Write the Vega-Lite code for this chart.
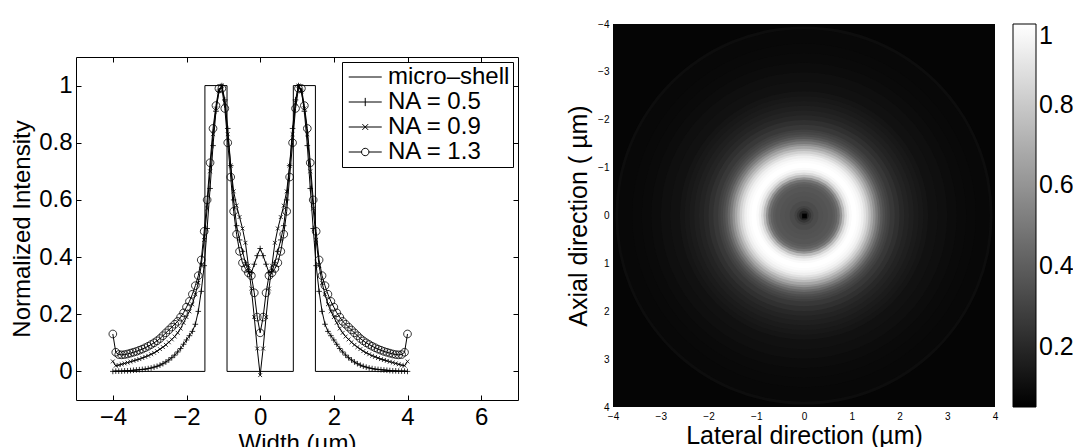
{
"$schema": "https://vega.github.io/schema/vega-lite/v6.json",
"background": "white",
"padding": {"left": 10, "top": 19, "right": 0, "bottom": 0},
"config": {
  "font": "Liberation Sans",
  "axis": {"labelColor": "black", "titleColor": "black", "titleFontWeight": "normal", "tickColor": "black", "domain": false, "grid": false},
  "legend": {"labelColor": "black"}
},
"datasets": {
"shell": [{"i":1,"x":-4,"y":0},{"i":2,"x":-1.5,"y":0},{"i":3,"x":-1.5,"y":1},{"i":4,"x":-0.9,"y":1},{"i":5,"x":-0.9,"y":0},{"i":6,"x":0.9,"y":0},{"i":7,"x":0.9,"y":1},{"i":8,"x":1.5,"y":1},{"i":9,"x":1.5,"y":0},{"i":10,"x":4,"y":0}],
"na": [
{"s":"NA = 0.5","x":-4,"y":0},{"s":"NA = 0.5","x":-3.92,"y":0.001},{"s":"NA = 0.5","x":-3.84,"y":0.001},{"s":"NA = 0.5","x":-3.76,"y":0.001},{"s":"NA = 0.5","x":-3.68,"y":0.002},{"s":"NA = 0.5","x":-3.6,"y":0.002},{"s":"NA = 0.5","x":-3.52,"y":0.003},{"s":"NA = 0.5","x":-3.44,"y":0.004},{"s":"NA = 0.5","x":-3.36,"y":0.005},{"s":"NA = 0.5","x":-3.28,"y":0.006},{"s":"NA = 0.5","x":-3.2,"y":0.007},{"s":"NA = 0.5","x":-3.12,"y":0.008},{"s":"NA = 0.5","x":-3.04,"y":0.01},{"s":"NA = 0.5","x":-2.96,"y":0.012},{"s":"NA = 0.5","x":-2.88,"y":0.015},{"s":"NA = 0.5","x":-2.8,"y":0.018},{"s":"NA = 0.5","x":-2.72,"y":0.022},{"s":"NA = 0.5","x":-2.64,"y":0.027},{"s":"NA = 0.5","x":-2.56,"y":0.033},{"s":"NA = 0.5","x":-2.48,"y":0.04},{"s":"NA = 0.5","x":-2.4,"y":0.048},{"s":"NA = 0.5","x":-2.32,"y":0.057},{"s":"NA = 0.5","x":-2.24,"y":0.068},{"s":"NA = 0.5","x":-2.16,"y":0.08},{"s":"NA = 0.5","x":-2.08,"y":0.095},{"s":"NA = 0.5","x":-2,"y":0.11},{"s":"NA = 0.5","x":-1.92,"y":0.125},{"s":"NA = 0.5","x":-1.84,"y":0.14},{"s":"NA = 0.5","x":-1.76,"y":0.165},{"s":"NA = 0.5","x":-1.68,"y":0.21},{"s":"NA = 0.5","x":-1.6,"y":0.28},{"s":"NA = 0.5","x":-1.52,"y":0.37},{"s":"NA = 0.5","x":-1.44,"y":0.5},{"s":"NA = 0.5","x":-1.36,"y":0.64},{"s":"NA = 0.5","x":-1.28,"y":0.79},{"s":"NA = 0.5","x":-1.2,"y":0.91},{"s":"NA = 0.5","x":-1.12,"y":0.98},{"s":"NA = 0.5","x":-1.04,"y":1},{"s":"NA = 0.5","x":-0.96,"y":0.95},{"s":"NA = 0.5","x":-0.88,"y":0.85},{"s":"NA = 0.5","x":-0.8,"y":0.72},{"s":"NA = 0.5","x":-0.72,"y":0.6},{"s":"NA = 0.5","x":-0.64,"y":0.51},{"s":"NA = 0.5","x":-0.56,"y":0.46},{"s":"NA = 0.5","x":-0.48,"y":0.42},{"s":"NA = 0.5","x":-0.4,"y":0.38},{"s":"NA = 0.5","x":-0.32,"y":0.35},{"s":"NA = 0.5","x":-0.24,"y":0.345},{"s":"NA = 0.5","x":-0.16,"y":0.375},{"s":"NA = 0.5","x":-0.08,"y":0.405},{"s":"NA = 0.5","x":0,"y":0.43},{"s":"NA = 0.5","x":0.08,"y":0.405},{"s":"NA = 0.5","x":0.16,"y":0.375},{"s":"NA = 0.5","x":0.24,"y":0.345},{"s":"NA = 0.5","x":0.32,"y":0.35},{"s":"NA = 0.5","x":0.4,"y":0.38},{"s":"NA = 0.5","x":0.48,"y":0.42},{"s":"NA = 0.5","x":0.56,"y":0.46},{"s":"NA = 0.5","x":0.64,"y":0.51},{"s":"NA = 0.5","x":0.72,"y":0.6},{"s":"NA = 0.5","x":0.8,"y":0.72},{"s":"NA = 0.5","x":0.88,"y":0.85},{"s":"NA = 0.5","x":0.96,"y":0.95},{"s":"NA = 0.5","x":1.04,"y":1},{"s":"NA = 0.5","x":1.12,"y":0.98},{"s":"NA = 0.5","x":1.2,"y":0.91},{"s":"NA = 0.5","x":1.28,"y":0.79},{"s":"NA = 0.5","x":1.36,"y":0.64},{"s":"NA = 0.5","x":1.44,"y":0.5},{"s":"NA = 0.5","x":1.52,"y":0.37},{"s":"NA = 0.5","x":1.6,"y":0.28},{"s":"NA = 0.5","x":1.68,"y":0.21},{"s":"NA = 0.5","x":1.76,"y":0.165},{"s":"NA = 0.5","x":1.84,"y":0.14},{"s":"NA = 0.5","x":1.92,"y":0.125},{"s":"NA = 0.5","x":2,"y":0.11},{"s":"NA = 0.5","x":2.08,"y":0.095},{"s":"NA = 0.5","x":2.16,"y":0.08},{"s":"NA = 0.5","x":2.24,"y":0.068},{"s":"NA = 0.5","x":2.32,"y":0.057},{"s":"NA = 0.5","x":2.4,"y":0.048},{"s":"NA = 0.5","x":2.48,"y":0.04},{"s":"NA = 0.5","x":2.56,"y":0.033},{"s":"NA = 0.5","x":2.64,"y":0.027},{"s":"NA = 0.5","x":2.72,"y":0.022},{"s":"NA = 0.5","x":2.8,"y":0.018},{"s":"NA = 0.5","x":2.88,"y":0.015},{"s":"NA = 0.5","x":2.96,"y":0.012},{"s":"NA = 0.5","x":3.04,"y":0.01},{"s":"NA = 0.5","x":3.12,"y":0.008},{"s":"NA = 0.5","x":3.2,"y":0.007},{"s":"NA = 0.5","x":3.28,"y":0.006},{"s":"NA = 0.5","x":3.36,"y":0.005},{"s":"NA = 0.5","x":3.44,"y":0.004},{"s":"NA = 0.5","x":3.52,"y":0.003},{"s":"NA = 0.5","x":3.6,"y":0.002},{"s":"NA = 0.5","x":3.68,"y":0.002},{"s":"NA = 0.5","x":3.76,"y":0.001},{"s":"NA = 0.5","x":3.84,"y":0.001},{"s":"NA = 0.5","x":3.92,"y":0.001},{"s":"NA = 0.5","x":4,"y":0},
{"s":"NA = 0.9","x":-4,"y":0.035},{"s":"NA = 0.9","x":-3.92,"y":0.02},{"s":"NA = 0.9","x":-3.84,"y":0.022},{"s":"NA = 0.9","x":-3.76,"y":0.025},{"s":"NA = 0.9","x":-3.68,"y":0.028},{"s":"NA = 0.9","x":-3.6,"y":0.031},{"s":"NA = 0.9","x":-3.52,"y":0.034},{"s":"NA = 0.9","x":-3.44,"y":0.037},{"s":"NA = 0.9","x":-3.36,"y":0.04},{"s":"NA = 0.9","x":-3.28,"y":0.043},{"s":"NA = 0.9","x":-3.2,"y":0.047},{"s":"NA = 0.9","x":-3.12,"y":0.051},{"s":"NA = 0.9","x":-3.04,"y":0.055},{"s":"NA = 0.9","x":-2.96,"y":0.06},{"s":"NA = 0.9","x":-2.88,"y":0.065},{"s":"NA = 0.9","x":-2.8,"y":0.071},{"s":"NA = 0.9","x":-2.72,"y":0.078},{"s":"NA = 0.9","x":-2.64,"y":0.085},{"s":"NA = 0.9","x":-2.56,"y":0.093},{"s":"NA = 0.9","x":-2.48,"y":0.102},{"s":"NA = 0.9","x":-2.4,"y":0.112},{"s":"NA = 0.9","x":-2.32,"y":0.122},{"s":"NA = 0.9","x":-2.24,"y":0.135},{"s":"NA = 0.9","x":-2.16,"y":0.15},{"s":"NA = 0.9","x":-2.08,"y":0.17},{"s":"NA = 0.9","x":-2,"y":0.19},{"s":"NA = 0.9","x":-1.92,"y":0.21},{"s":"NA = 0.9","x":-1.84,"y":0.235},{"s":"NA = 0.9","x":-1.76,"y":0.27},{"s":"NA = 0.9","x":-1.68,"y":0.31},{"s":"NA = 0.9","x":-1.6,"y":0.37},{"s":"NA = 0.9","x":-1.52,"y":0.46},{"s":"NA = 0.9","x":-1.44,"y":0.57},{"s":"NA = 0.9","x":-1.36,"y":0.7},{"s":"NA = 0.9","x":-1.28,"y":0.83},{"s":"NA = 0.9","x":-1.2,"y":0.92},{"s":"NA = 0.9","x":-1.12,"y":0.98},{"s":"NA = 0.9","x":-1.04,"y":1},{"s":"NA = 0.9","x":-0.96,"y":0.94},{"s":"NA = 0.9","x":-0.88,"y":0.83},{"s":"NA = 0.9","x":-0.8,"y":0.72},{"s":"NA = 0.9","x":-0.72,"y":0.63},{"s":"NA = 0.9","x":-0.64,"y":0.58},{"s":"NA = 0.9","x":-0.56,"y":0.54},{"s":"NA = 0.9","x":-0.48,"y":0.5},{"s":"NA = 0.9","x":-0.4,"y":0.45},{"s":"NA = 0.9","x":-0.32,"y":0.37},{"s":"NA = 0.9","x":-0.24,"y":0.29},{"s":"NA = 0.9","x":-0.16,"y":0.19},{"s":"NA = 0.9","x":-0.08,"y":0.08},{"s":"NA = 0.9","x":0,"y":-0.013},{"s":"NA = 0.9","x":0.08,"y":0.08},{"s":"NA = 0.9","x":0.16,"y":0.19},{"s":"NA = 0.9","x":0.24,"y":0.29},{"s":"NA = 0.9","x":0.32,"y":0.37},{"s":"NA = 0.9","x":0.4,"y":0.45},{"s":"NA = 0.9","x":0.48,"y":0.5},{"s":"NA = 0.9","x":0.56,"y":0.54},{"s":"NA = 0.9","x":0.64,"y":0.58},{"s":"NA = 0.9","x":0.72,"y":0.63},{"s":"NA = 0.9","x":0.8,"y":0.72},{"s":"NA = 0.9","x":0.88,"y":0.83},{"s":"NA = 0.9","x":0.96,"y":0.94},{"s":"NA = 0.9","x":1.04,"y":1},{"s":"NA = 0.9","x":1.12,"y":0.98},{"s":"NA = 0.9","x":1.2,"y":0.92},{"s":"NA = 0.9","x":1.28,"y":0.83},{"s":"NA = 0.9","x":1.36,"y":0.7},{"s":"NA = 0.9","x":1.44,"y":0.57},{"s":"NA = 0.9","x":1.52,"y":0.46},{"s":"NA = 0.9","x":1.6,"y":0.37},{"s":"NA = 0.9","x":1.68,"y":0.31},{"s":"NA = 0.9","x":1.76,"y":0.27},{"s":"NA = 0.9","x":1.84,"y":0.235},{"s":"NA = 0.9","x":1.92,"y":0.21},{"s":"NA = 0.9","x":2,"y":0.19},{"s":"NA = 0.9","x":2.08,"y":0.17},{"s":"NA = 0.9","x":2.16,"y":0.15},{"s":"NA = 0.9","x":2.24,"y":0.135},{"s":"NA = 0.9","x":2.32,"y":0.122},{"s":"NA = 0.9","x":2.4,"y":0.112},{"s":"NA = 0.9","x":2.48,"y":0.102},{"s":"NA = 0.9","x":2.56,"y":0.093},{"s":"NA = 0.9","x":2.64,"y":0.085},{"s":"NA = 0.9","x":2.72,"y":0.078},{"s":"NA = 0.9","x":2.8,"y":0.071},{"s":"NA = 0.9","x":2.88,"y":0.065},{"s":"NA = 0.9","x":2.96,"y":0.06},{"s":"NA = 0.9","x":3.04,"y":0.055},{"s":"NA = 0.9","x":3.12,"y":0.051},{"s":"NA = 0.9","x":3.2,"y":0.047},{"s":"NA = 0.9","x":3.28,"y":0.043},{"s":"NA = 0.9","x":3.36,"y":0.04},{"s":"NA = 0.9","x":3.44,"y":0.037},{"s":"NA = 0.9","x":3.52,"y":0.034},{"s":"NA = 0.9","x":3.6,"y":0.031},{"s":"NA = 0.9","x":3.68,"y":0.028},{"s":"NA = 0.9","x":3.76,"y":0.025},{"s":"NA = 0.9","x":3.84,"y":0.022},{"s":"NA = 0.9","x":3.92,"y":0.02},{"s":"NA = 0.9","x":4,"y":0.035},
{"s":"NA = 1.3","x":-4,"y":0.131},{"s":"NA = 1.3","x":-3.92,"y":0.067},{"s":"NA = 1.3","x":-3.84,"y":0.059},{"s":"NA = 1.3","x":-3.76,"y":0.058},{"s":"NA = 1.3","x":-3.68,"y":0.059},{"s":"NA = 1.3","x":-3.6,"y":0.061},{"s":"NA = 1.3","x":-3.52,"y":0.064},{"s":"NA = 1.3","x":-3.44,"y":0.067},{"s":"NA = 1.3","x":-3.36,"y":0.07},{"s":"NA = 1.3","x":-3.28,"y":0.074},{"s":"NA = 1.3","x":-3.2,"y":0.078},{"s":"NA = 1.3","x":-3.12,"y":0.083},{"s":"NA = 1.3","x":-3.04,"y":0.088},{"s":"NA = 1.3","x":-2.96,"y":0.094},{"s":"NA = 1.3","x":-2.88,"y":0.1},{"s":"NA = 1.3","x":-2.8,"y":0.107},{"s":"NA = 1.3","x":-2.72,"y":0.115},{"s":"NA = 1.3","x":-2.64,"y":0.125},{"s":"NA = 1.3","x":-2.56,"y":0.135},{"s":"NA = 1.3","x":-2.48,"y":0.145},{"s":"NA = 1.3","x":-2.4,"y":0.155},{"s":"NA = 1.3","x":-2.32,"y":0.165},{"s":"NA = 1.3","x":-2.24,"y":0.175},{"s":"NA = 1.3","x":-2.16,"y":0.19},{"s":"NA = 1.3","x":-2.08,"y":0.205},{"s":"NA = 1.3","x":-2,"y":0.225},{"s":"NA = 1.3","x":-1.92,"y":0.245},{"s":"NA = 1.3","x":-1.84,"y":0.27},{"s":"NA = 1.3","x":-1.76,"y":0.3},{"s":"NA = 1.3","x":-1.68,"y":0.335},{"s":"NA = 1.3","x":-1.6,"y":0.39},{"s":"NA = 1.3","x":-1.52,"y":0.49},{"s":"NA = 1.3","x":-1.44,"y":0.6},{"s":"NA = 1.3","x":-1.36,"y":0.73},{"s":"NA = 1.3","x":-1.28,"y":0.85},{"s":"NA = 1.3","x":-1.2,"y":0.93},{"s":"NA = 1.3","x":-1.12,"y":0.99},{"s":"NA = 1.3","x":-1.04,"y":0.99},{"s":"NA = 1.3","x":-0.96,"y":0.92},{"s":"NA = 1.3","x":-0.88,"y":0.8},{"s":"NA = 1.3","x":-0.8,"y":0.68},{"s":"NA = 1.3","x":-0.72,"y":0.56},{"s":"NA = 1.3","x":-0.64,"y":0.48},{"s":"NA = 1.3","x":-0.56,"y":0.42},{"s":"NA = 1.3","x":-0.48,"y":0.38},{"s":"NA = 1.3","x":-0.4,"y":0.36},{"s":"NA = 1.3","x":-0.32,"y":0.345},{"s":"NA = 1.3","x":-0.24,"y":0.335},{"s":"NA = 1.3","x":-0.16,"y":0.275},{"s":"NA = 1.3","x":-0.08,"y":0.19},{"s":"NA = 1.3","x":0,"y":0.135},{"s":"NA = 1.3","x":0.08,"y":0.19},{"s":"NA = 1.3","x":0.16,"y":0.275},{"s":"NA = 1.3","x":0.24,"y":0.335},{"s":"NA = 1.3","x":0.32,"y":0.345},{"s":"NA = 1.3","x":0.4,"y":0.36},{"s":"NA = 1.3","x":0.48,"y":0.38},{"s":"NA = 1.3","x":0.56,"y":0.42},{"s":"NA = 1.3","x":0.64,"y":0.48},{"s":"NA = 1.3","x":0.72,"y":0.56},{"s":"NA = 1.3","x":0.8,"y":0.68},{"s":"NA = 1.3","x":0.88,"y":0.8},{"s":"NA = 1.3","x":0.96,"y":0.92},{"s":"NA = 1.3","x":1.04,"y":0.99},{"s":"NA = 1.3","x":1.12,"y":0.99},{"s":"NA = 1.3","x":1.2,"y":0.93},{"s":"NA = 1.3","x":1.28,"y":0.85},{"s":"NA = 1.3","x":1.36,"y":0.73},{"s":"NA = 1.3","x":1.44,"y":0.6},{"s":"NA = 1.3","x":1.52,"y":0.49},{"s":"NA = 1.3","x":1.6,"y":0.39},{"s":"NA = 1.3","x":1.68,"y":0.335},{"s":"NA = 1.3","x":1.76,"y":0.3},{"s":"NA = 1.3","x":1.84,"y":0.27},{"s":"NA = 1.3","x":1.92,"y":0.245},{"s":"NA = 1.3","x":2,"y":0.225},{"s":"NA = 1.3","x":2.08,"y":0.205},{"s":"NA = 1.3","x":2.16,"y":0.19},{"s":"NA = 1.3","x":2.24,"y":0.175},{"s":"NA = 1.3","x":2.32,"y":0.165},{"s":"NA = 1.3","x":2.4,"y":0.155},{"s":"NA = 1.3","x":2.48,"y":0.145},{"s":"NA = 1.3","x":2.56,"y":0.135},{"s":"NA = 1.3","x":2.64,"y":0.125},{"s":"NA = 1.3","x":2.72,"y":0.115},{"s":"NA = 1.3","x":2.8,"y":0.107},{"s":"NA = 1.3","x":2.88,"y":0.1},{"s":"NA = 1.3","x":2.96,"y":0.094},{"s":"NA = 1.3","x":3.04,"y":0.088},{"s":"NA = 1.3","x":3.12,"y":0.083},{"s":"NA = 1.3","x":3.2,"y":0.078},{"s":"NA = 1.3","x":3.28,"y":0.074},{"s":"NA = 1.3","x":3.36,"y":0.07},{"s":"NA = 1.3","x":3.44,"y":0.067},{"s":"NA = 1.3","x":3.52,"y":0.064},{"s":"NA = 1.3","x":3.6,"y":0.061},{"s":"NA = 1.3","x":3.68,"y":0.059},{"s":"NA = 1.3","x":3.76,"y":0.058},{"s":"NA = 1.3","x":3.84,"y":0.059},{"s":"NA = 1.3","x":3.92,"y":0.067},{"s":"NA = 1.3","x":4,"y":0.131}
],
"rings": [
{"r":3.95,"v":0.1},{"r":3.89,"v":0.078},{"r":3.6,"v":0.083},{"r":3.4,"v":0.088},{"r":3.2,"v":0.095},{"r":3,"v":0.105},{"r":2.8,"v":0.115},{"r":2.6,"v":0.13},{"r":2.5,"v":0.14},{"r":2.4,"v":0.15},{"r":2.3,"v":0.165},{"r":2.2,"v":0.18},{"r":2.1,"v":0.2},{"r":2,"v":0.23},{"r":1.9,"v":0.26},{"r":1.8,"v":0.29},{"r":1.75,"v":0.31},{"r":1.7,"v":0.34},{"r":1.65,"v":0.38},{"r":1.6,"v":0.44},{"r":1.55,"v":0.51},{"r":1.5,"v":0.59},{"r":1.45,"v":0.67},{"r":1.4,"v":0.75},{"r":1.35,"v":0.83},{"r":1.3,"v":0.89},{"r":1.25,"v":0.94},{"r":1.2,"v":0.97},{"r":1.15,"v":0.99},{"r":1.1,"v":1},{"r":1.05,"v":1},{"r":1,"v":0.98},{"r":0.95,"v":0.94},{"r":0.9,"v":0.87},{"r":0.85,"v":0.75},{"r":0.8,"v":0.6},{"r":0.75,"v":0.48},{"r":0.7,"v":0.42},{"r":0.65,"v":0.39},{"r":0.6,"v":0.37},{"r":0.5,"v":0.36},{"r":0.4,"v":0.35},{"r":0.3,"v":0.33},{"r":0.2,"v":0.3},{"r":0.15,"v":0.25},{"r":0.1,"v":0.18}
],
"cell": [{"x":-0.05,"y":-0.05,"v":0.05}]
},
"hconcat": [
  {"vconcat": [
    {"width": 442, "height": 32, "data": {"values": []}, "mark": "point", "view": {"stroke": null}},
    {
      "width": 442, "height": 343,
      "view": {"stroke": "black", "strokeWidth": 1},
      "layer": [
        {"data": {"name": "shell"},
         "mark": {"type": "line", "color": "black", "strokeWidth": 1},
         "encoding": {
           "x": {"field": "x", "type": "quantitative", "scale": {"domain": [-5, 7], "nice": false, "zero": false},
                 "axis": {"orient": "bottom", "values": [-4, -2, 0, 2, 4, 6], "format": "~g", "title": "Width (µm)", "labelFontSize": 24, "titleFontSize": 24, "tickSize": -5, "labelPadding": 10, "titlePadding": 2, "labelFlush": false}},
           "y": {"field": "y", "type": "quantitative", "scale": {"domain": [-0.1, 1.1], "nice": false, "zero": false},
                 "axis": {"orient": "left", "values": [0, 0.2, 0.4, 0.6, 0.8, 1], "format": "~g", "title": "Normalized Intensity", "labelFontSize": 24, "titleFontSize": 24, "tickSize": -5, "labelPadding": 9, "titlePadding": 4, "labelFlush": false}},
           "order": {"field": "i", "type": "quantitative"}
         }},
        {"data": {"name": "na"},
         "mark": {"type": "line", "color": "black", "strokeWidth": 1},
         "encoding": {
           "x": {"field": "x", "type": "quantitative", "axis": {"orient": "top", "labels": false, "title": null, "tickSize": -5, "values": [-4, -2, 0, 2, 4, 6]}},
           "y": {"field": "y", "type": "quantitative", "axis": {"orient": "right", "labels": false, "title": null, "tickSize": -5, "values": [0, 0.2, 0.4, 0.6, 0.8, 1]}},
           "detail": {"field": "s"}
         }},
        {"data": {"name": "na"},
         "mark": {"type": "point", "filled": false, "color": "black", "size": 49, "strokeWidth": 0.8, "opacity": 1},
         "encoding": {
           "x": {"field": "x", "type": "quantitative", "axis": null},
           "y": {"field": "y", "type": "quantitative", "axis": null},
           "shape": {"field": "s", "type": "nominal", "legend": null,
                     "scale": {"domain": ["NA = 0.5", "NA = 0.9", "NA = 1.3"], "range": ["M-0.8,0H0.8M0,-0.8V0.8", "M-0.55,-0.55L0.55,0.55M-0.55,0.55L0.55,-0.55", "M1.1,0A1.1,1.1 0 1,1 -1.1,0A1.1,1.1 0 1,1 1.1,0Z"]}}
         }},
        {"data": {"name": "na"},
         "transform": [{"filter": "false"}],
         "mark": {"type": "point", "filled": false, "color": "black", "size": 272, "strokeWidth": 1, "opacity": 1},
         "encoding": {
           "shape": {"field": "s", "type": "nominal",
                     "scale": {"domain": ["micro–shell", "NA = 0.5", "NA = 0.9", "NA = 1.3"], "range": ["M-1,0H3", "M-1,0H3M1,-0.5V0.5", "M-1,0H3M0.65,-0.35L1.35,0.35M0.65,0.35L1.35,-0.35", "M-1,0H0.55A0.45,0.45 0 1,1 1.45,0A0.45,0.45 0 1,1 0.55,0M1.45,0H3"]},
                     "legend": {"orient": "top-right", "offset": 5, "title": null, "padding": 3, "strokeColor": "black", "fillColor": "white", "cornerRadius": 0, "labelFontSize": 24, "labelOffset": 19, "labelLimit": 400, "symbolSize": 272, "symbolStrokeColor": "black", "symbolFillColor": "transparent", "symbolStrokeWidth": 1, "symbolOpacity": 1, "rowPadding": 1}}
         }}
      ],
      "resolve": {"scale": {"shape": "independent"}, "axis": {"x": "independent", "y": "independent"}}
    }
  ], "spacing": 0},
  {
    "width": 382, "height": 383,
    "view": {"fill": "#050505", "stroke": null},
    "layer": [
      {"data": {"name": "rings"},
       "mark": {"type": "point", "shape": "circle", "filled": true, "opacity": 1, "strokeWidth": 0},
       "encoding": {
         "size": {"field": "r", "type": "quantitative", "legend": null,
                  "scale": {"type": "pow", "exponent": 2, "domain": [0, 4], "zero": true, "range": [0, 145924]}},
         "color": {"field": "v", "type": "quantitative",
                   "scale": {"domain": [0.05, 1], "range": ["black", "white"], "interpolate": "rgb"},
                   "legend": {"title": null, "orient": "right", "offset": 15, "direction": "vertical", "gradientLength": 383, "gradientThickness": 23, "gradientStrokeColor": "black", "gradientStrokeWidth": 1, "values": [0.2, 0.4, 0.6, 0.8, 1], "format": "~g", "labelFontSize": 25, "labelOffset": 3, "padding": 0, "labelOverlap": false}}
       }},
      {"data": {"name": "cell"},
       "mark": {"type": "rect"},
       "encoding": {
         "x": {"field": "x", "type": "quantitative", "bin": {"binned": true, "step": 0.1},
               "scale": {"domain": [-4, 4], "nice": false, "zero": false},
               "axis": {"values": [-4, -3, -2, -1, 0, 1, 2, 3, 4], "format": "~g", "labelFontSize": 10, "ticks": false, "labelPadding": 4, "labelFlush": false, "title": "Lateral direction (µm)", "titleFontSize": 25, "titlePadding": 2}},
         "y": {"field": "y", "type": "quantitative", "bin": {"binned": true, "step": 0.1},
               "scale": {"domain": [-4, 4], "nice": false, "zero": false, "reverse": true},
               "axis": {"values": [-4, -3, -2, -1, 0, 1, 2, 3, 4], "format": "~g", "labelFontSize": 10, "ticks": false, "labelPadding": 4, "labelFlush": false, "title": "Axial direction ( µm)", "titleFontSize": 25, "titlePadding": 6}},
         "color": {"field": "v", "type": "quantitative"}
       }}
    ]
  }
],
"spacing": 47
}
